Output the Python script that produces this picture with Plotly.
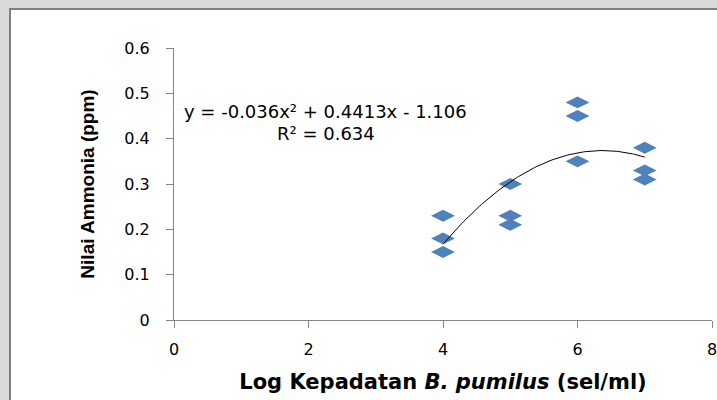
import numpy as np
import plotly.graph_objects as go

x_vals = [4, 4, 4, 5, 5, 5, 6, 6, 6, 7, 7, 7]
y_vals = [0.23, 0.18, 0.15, 0.30, 0.23, 0.21, 0.48, 0.45, 0.35, 0.38, 0.33, 0.31]
x_ticks = [0, 2, 4, 6, 8]
y_ticks = [0, 0.1, 0.2, 0.3, 0.4, 0.5, 0.6]
eq_text = "y = -0.036x² + 0.4413x - 1.106"
r2_text = "R² = 0.634"

coef = np.polyfit(x_vals, y_vals, 2)
xf = np.linspace(min(x_vals), max(x_vals), 100)
yf = np.polyval(coef, xf)

fig = go.Figure()
fig.add_trace(go.Scatter(x=x_vals, y=y_vals, mode="markers",
                         marker=dict(symbol="diamond-wide", size=17, color="#4f81bd",
                                     line=dict(width=0))))
fig.add_trace(go.Scatter(x=xf, y=yf, mode="lines",
                         line=dict(color="black", width=1), hoverinfo="skip"))

fig.add_shape(type="rect", xref="paper", yref="paper",
              x0=-0.3048, x1=1.03, y0=-0.35, y1=1.1434,
              fillcolor="white", line=dict(color="#7f7f7f", width=2), layer="below")

fig.add_annotation(x=2.26, y=0.459, text=eq_text, showarrow=False,
                   font=dict(family="DejaVu Sans", size=18, color="black"))
fig.add_annotation(x=2.26, y=0.4125, text=r2_text, showarrow=False,
                   font=dict(family="DejaVu Sans", size=18, color="black"))

axis_col = "#868686"
fig.update_layout(
    width=717, height=400,
    margin=dict(l=174, r=5, t=48, b=80, autoexpand=False),
    paper_bgcolor="#d9d9d9", plot_bgcolor="white",
    showlegend=False,
    xaxis=dict(range=[0, 8], tickvals=x_ticks, ticktext=[str(v) for v in x_ticks],
               automargin=False, ticklabeloverflow="allow",
               showgrid=False, zeroline=False, showline=True, linecolor=axis_col,
               linewidth=1, ticks="outside", ticklen=7, tickcolor=axis_col,
               ticklabelstandoff=8,
               tickfont=dict(family="DejaVu Sans", size=16, color="black"),
               title=dict(text="<b>Log Kepadatan <i>B. pumilus</i> (sel/ml)</b>",
                          font=dict(family="DejaVu Sans", size=21, color="black"),
                          standoff=16)),
    yaxis=dict(range=[0, 0.6], tickvals=y_ticks,
               ticktext=["0", "0.1", "0.2", "0.3", "0.4", "0.5", "0.6"],
               automargin=False,
               showgrid=False, zeroline=False, showline=True, linecolor=axis_col,
               linewidth=1, ticks="outside", ticklen=7, tickcolor=axis_col,
               ticklabelstandoff=13,
               tickfont=dict(family="DejaVu Sans", size=16, color="black"),
               title=dict(text="<b>Nilai Ammonia (ppm)</b>",
                          font=dict(family="Liberation Sans", size=19, color="black"),
                          standoff=24)),
)

fig.write_html("out.html")
